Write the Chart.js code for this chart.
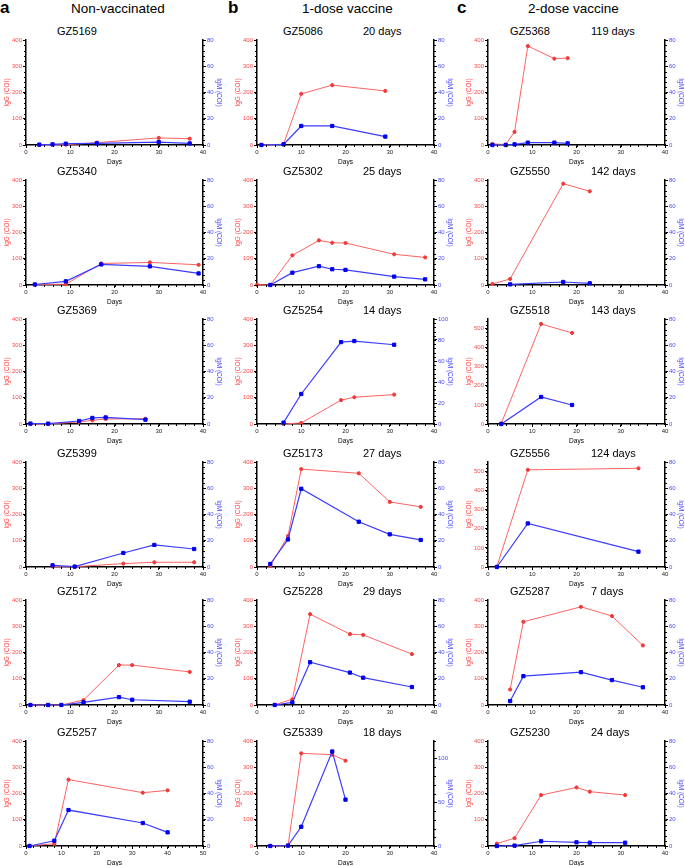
<!DOCTYPE html>
<html>
<head>
<meta charset="utf-8">
<script src="https://cdn.jsdelivr.net/npm/chart.js@4"></script>
<style>
  body { margin: 0; background: #fff; font-family: "Liberation Sans", Arial, sans-serif; }
  #fig { position: relative; width: 685px; height: 866px; overflow: hidden; background: #fff; }
  .lbl { position: absolute; white-space: nowrap; color: #000; }
  .letter { font-weight: bold; font-size: 17px; line-height: 18px; top: -1px; }
  .head { font-size: 13.5px; line-height: 15px; top: 1px; }
  .ttl { font-size: 11px; line-height: 12px; }
  canvas { position: absolute; }
</style>
</head>
<body>
<div id="fig">
  <div class="lbl letter" style="left:0px">a</div>
  <div class="lbl head" style="left:71px">Non-vaccinated</div>
  <div class="lbl letter" style="left:228px">b</div>
  <div class="lbl head" style="left:302px">1-dose vaccine</div>
  <div class="lbl letter" style="left:457px">c</div>
  <div class="lbl head" style="left:528px">2-dose vaccine</div>
</div>
<script>
// --- Non-vaccinated ---
const daysGZ5169 = [3, 6, 9, 16, 30, 37];
const iggGZ5169 = [0.5, 0.5, 1, 9, 27, 24];
const igmGZ5169 = [0.3, 0.5, 1, 1.3, 2.2, 1.2];

const daysGZ5340 = [2, 9, 17, 28, 39];
const iggGZ5340 = [2, 3, 82, 86, 77];
const igmGZ5340 = [0.4, 2.8, 15.7, 14.2, 8.8];

const daysGZ5369 = [1, 5, 12, 15, 18, 27];
const iggGZ5369 = [0, 0, 8, 14, 19, 20];
const igmGZ5369 = [0.3, 0.3, 2.3, 4.6, 5, 3.3];

const daysGZ5399 = [6, 11, 22, 29, 38];
const iggGZ5399 = [2, 1, 13, 18, 18];
const igmGZ5399 = [1.3, 0.3, 10.7, 16.8, 13.7];

const daysGZ5172 = [1, 5, 8, 13, 21, 24, 37];
const iggGZ5172 = [0, 0, 0, 19, 152, 152, 126];
const igmGZ5172 = [0, 0, 0, 2, 6, 4, 2.5];

const daysGZ5257 = [1, 8, 12, 33, 40];
const iggGZ5257 = [1, 8, 253, 203, 212];
const igmGZ5257 = [0, 4, 27.4, 17.5, 10.4];

// --- 1-dose vaccine ---
const daysGZ5086 = [1, 6, 10, 17, 29];
const iggGZ5086 = [0, 3, 195, 228, 206];
const igmGZ5086 = [0, 0.5, 14.5, 14.5, 6.4];

const daysGZ5302 = [0, 3, 8, 14, 17, 20, 31, 38];
const iggGZ5302 = [1, 0, 113, 170, 161, 160, 117, 105];
const igmGZ5302 = [null, 0, 9.4, 14.3, 12, 11.5, 6.4, 4.3];

const daysGZ5254 = [6, 10, 19, 22, 31];
const iggGZ5254 = [0, 4, 91, 102, 112];
const igmGZ5254 = [1.3, 28.6, 78, 79, 75.5];

const daysGZ5173 = [3, 7, 10, 23, 30, 37];
const iggGZ5173 = [4, 118, 373, 357, 248, 229];
const igmGZ5173 = [2.3, 21, 59.6, 34.5, 24.9, 20.6];

const daysGZ5228 = [4, 8, 12, 21, 24, 35];
const iggGZ5228 = [1, 22, 346, 270, 267, 194];
const igmGZ5228 = [0, 2, 32.6, 24.7, 20.8, 13.7];

const daysGZ5339 = [3, 7, 10, 17, 20];
const iggGZ5339 = [0, 0, 353, 348, 325];
const igmGZ5339 = [0, 0.5, 22, 108, 53];

// --- 2-dose vaccine ---
const daysGZ5368 = [1, 4, 6, 9, 15, 18];
const iggGZ5368 = [4, 2, 50, 377, 329, 331];
const igmGZ5368 = [0, 0, 0.5, 1.8, 1.8, 1.3];

const daysGZ5550 = [1, 5, 17, 23];
const iggGZ5550 = [4, 23, 386, 357];
const igmGZ5550 = [null, 0.5, 2.3, 1.3];

const daysGZ5518 = [3, 12, 19];
const iggGZ5518 = [3, 524, 477];
const igmGZ5518 = [0, 20.6, 14.5];

const daysGZ5556 = [2, 9, 34];
const iggGZ5556 = [2, 509, 517];
const igmGZ5556 = [0, 33.2, 11.7];

const daysGZ5287 = [5, 8, 21, 28, 35];
const iggGZ5287 = [59, 317, 374, 339, 227];
const igmGZ5287 = [3, 22, 25, 19, 13.5];

const daysGZ5230 = [2, 6, 12, 20, 23, 31];
const iggGZ5230 = [9, 30, 194, 223, 207, 194];
const igmGZ5230 = [0, 0.3, 3.6, 2.8, 2.5, 2.5];

const panels = [
  { col: 0, row: 0, id: "GZ5169", days: daysGZ5169, igg: iggGZ5169, igm: igmGZ5169 },
  { col: 0, row: 1, id: "GZ5340", days: daysGZ5340, igg: iggGZ5340, igm: igmGZ5340 },
  { col: 0, row: 2, id: "GZ5369", days: daysGZ5369, igg: iggGZ5369, igm: igmGZ5369 },
  { col: 0, row: 3, id: "GZ5399", days: daysGZ5399, igg: iggGZ5399, igm: igmGZ5399 },
  { col: 0, row: 4, id: "GZ5172", days: daysGZ5172, igg: iggGZ5172, igm: igmGZ5172 },
  { col: 0, row: 5, id: "GZ5257", days: daysGZ5257, igg: iggGZ5257, igm: igmGZ5257, xMax: 50 },
  { col: 1, row: 0, id: "GZ5086", note: "20 days", days: daysGZ5086, igg: iggGZ5086, igm: igmGZ5086 },
  { col: 1, row: 1, id: "GZ5302", note: "25 days", days: daysGZ5302, igg: iggGZ5302, igm: igmGZ5302 },
  { col: 1, row: 2, id: "GZ5254", note: "14 days", days: daysGZ5254, igg: iggGZ5254, igm: igmGZ5254, igmMax: 100 },
  { col: 1, row: 3, id: "GZ5173", note: "27 days", days: daysGZ5173, igg: iggGZ5173, igm: igmGZ5173 },
  { col: 1, row: 4, id: "GZ5228", note: "29 days", days: daysGZ5228, igg: iggGZ5228, igm: igmGZ5228 },
  { col: 1, row: 5, id: "GZ5339", note: "18 days", days: daysGZ5339, igg: iggGZ5339, igm: igmGZ5339, igmMax: 120, igmStep: 50, igmMinor: 10 },
  { col: 2, row: 0, id: "GZ5368", note: "119 days", days: daysGZ5368, igg: iggGZ5368, igm: igmGZ5368 },
  { col: 2, row: 1, id: "GZ5550", note: "142 days", days: daysGZ5550, igg: iggGZ5550, igm: igmGZ5550 },
  { col: 2, row: 2, id: "GZ5518", note: "143 days", days: daysGZ5518, igg: iggGZ5518, igm: igmGZ5518, iggMax: 550 },
  { col: 2, row: 3, id: "GZ5556", note: "124 days", days: daysGZ5556, igg: iggGZ5556, igm: igmGZ5556, iggMax: 550 },
  { col: 2, row: 4, id: "GZ5287", note: "7 days", days: daysGZ5287, igg: iggGZ5287, igm: igmGZ5287 },
  { col: 2, row: 5, id: "GZ5230", note: "24 days", days: daysGZ5230, igg: iggGZ5230, igm: igmGZ5230 },
];

// layout of the 3x6 grid (plot area corners)
const colLeft = [26, 257, 488];
const rowTop = [40, 180, 319, 462, 600, 741];
const idX = [57, 283, 510];
const noteX = [0, 363, 591];
const plotW = 177, plotH = 105;
const padL = 24, padR = 22, padT = 6, padB = 22;

const RED_LINE = "#ff6262", RED_PT = "#f03a3a", RED_TXT = "#ff4a4a";
const BLUE_LINE = "#3c3cff", BLUE_PT = "#0000ee", BLUE_TXT = "#4a4aff";

Chart.defaults.font.family = '"Liberation Sans", Arial, sans-serif';

// small outward minor ticks, placed with the scales' own pixel mapping
const minorTicks = {
  id: "minorTicks",
  afterDraw(chart, args, opts) {
    const ctx = chart.ctx;
    const len = opts.len || 2;
    ctx.save();
    ctx.strokeStyle = "#000";
    ctx.lineWidth = 1;
    ctx.beginPath();
    ["x", "y", "y1"].forEach((id) => {
      const step = opts[id];
      const s = chart.scales[id];
      if (!step || !s) return;
      for (let v = s.min; v <= s.max + 1e-9; v += step) {
        const p = Math.round(s.getPixelForValue(v)) + 0.5;
        if (s.isHorizontal()) {
          ctx.moveTo(p, s.top);
          ctx.lineTo(p, s.top + len);
        } else if (s.position === "left") {
          ctx.moveTo(s.right, p);
          ctx.lineTo(s.right - len, p);
        } else {
          ctx.moveTo(s.left, p);
          ctx.lineTo(s.left + len, p);
        }
      }
    });
    ctx.stroke();
    ctx.restore();
  },
};

const fig = document.getElementById("fig");

function addText(text, x, y) {
  const d = document.createElement("div");
  d.className = "lbl ttl";
  d.style.left = x + "px";
  d.style.top = y + "px";
  d.textContent = text;
  fig.appendChild(d);
}

function toPoints(days, vals) {
  const pts = [];
  days.forEach((d, i) => {
    if (vals[i] !== null) pts.push({ x: d, y: vals[i] });
  });
  return pts;
}

function axisLine() {
  return { color: "#000", width: 1.5 };
}

function tickGrid() {
  return { drawOnChartArea: false, tickLength: 3, tickColor: "#000", tickWidth: 1, color: "#000" };
}

panels.forEach((p) => {
  const left = colLeft[p.col];
  const top = rowTop[p.row];

  addText(p.id, idX[p.col], top - 15);
  if (p.note) addText(p.note, noteX[p.col], top - 15);

  const cv = document.createElement("canvas");
  cv.width = padL + plotW + padR;
  cv.height = padT + plotH + padB;
  cv.style.left = left - padL + "px";
  cv.style.top = top - padT + "px";
  fig.appendChild(cv);

  const xMax = p.xMax || 40;
  const iggMax = p.iggMax || 400;
  const igmMax = p.igmMax || 80;
  const igmStep = p.igmStep || 20;

  new Chart(cv.getContext("2d"), {
    type: "line",
    data: {
      datasets: [
        {
          label: "IgM",
          data: toPoints(p.days, p.igm),
          yAxisID: "y1",
          borderColor: BLUE_LINE,
          borderWidth: 1.2,
          pointStyle: "rect",
          pointRadius: 2.3,
          pointBackgroundColor: BLUE_PT,
          pointBorderColor: BLUE_PT,
          pointBorderWidth: 1,
          tension: 0,
          clip: false,
          order: 0,
        },
        {
          label: "IgG",
          data: toPoints(p.days, p.igg),
          yAxisID: "y",
          borderColor: RED_LINE,
          borderWidth: 1,
          pointStyle: "circle",
          pointRadius: 1.6,
          pointBackgroundColor: RED_PT,
          pointBorderColor: RED_PT,
          pointBorderWidth: 1,
          tension: 0,
          clip: false,
          order: 1,
        },
      ],
    },
    options: {
      responsive: false,
      animation: false,
      events: [],
      layout: { padding: { top: padT, left: 0, right: 0, bottom: 0 } },
      plugins: {
        legend: { display: false },
        tooltip: { enabled: false },
        minorTicks: { x: 2, y: 20, y1: p.igmMinor || 4, len: 2 },
      },
      scales: {
        x: {
          type: "linear",
          min: 0,
          max: xMax,
          border: axisLine(),
          grid: tickGrid(),
          ticks: { stepSize: 10, color: "#222", font: { size: 6 }, padding: 1, maxRotation: 0 },
          title: { display: true, text: "Days", color: "#000", font: { size: 6.5 }, padding: { top: 0, bottom: 1 } },
          afterFit: (s) => { s.height = padB; },
        },
        y: {
          type: "linear",
          position: "left",
          min: 0,
          max: iggMax,
          border: axisLine(),
          grid: tickGrid(),
          ticks: { stepSize: 100, includeBounds: false, color: RED_TXT, font: { size: 6 }, padding: 1 },
          title: { display: true, text: "IgG (COI)", color: RED_TXT, font: { size: 6.5 }, padding: { top: 1, bottom: 0 } },
          afterFit: (s) => { s.width = padL; },
        },
        y1: {
          type: "linear",
          position: "right",
          min: 0,
          max: igmMax,
          border: axisLine(),
          grid: tickGrid(),
          ticks: { stepSize: igmStep, includeBounds: false, color: BLUE_TXT, font: { size: 6 }, padding: 1 },
          title: { display: true, text: "IgM (COI)", color: BLUE_TXT, font: { size: 6.5 }, padding: { top: 2, bottom: 0 } },
          afterFit: (s) => { s.width = padR; },
        },
      },
    },
    plugins: [minorTicks],
  });
});
</script>
</body>
</html>
